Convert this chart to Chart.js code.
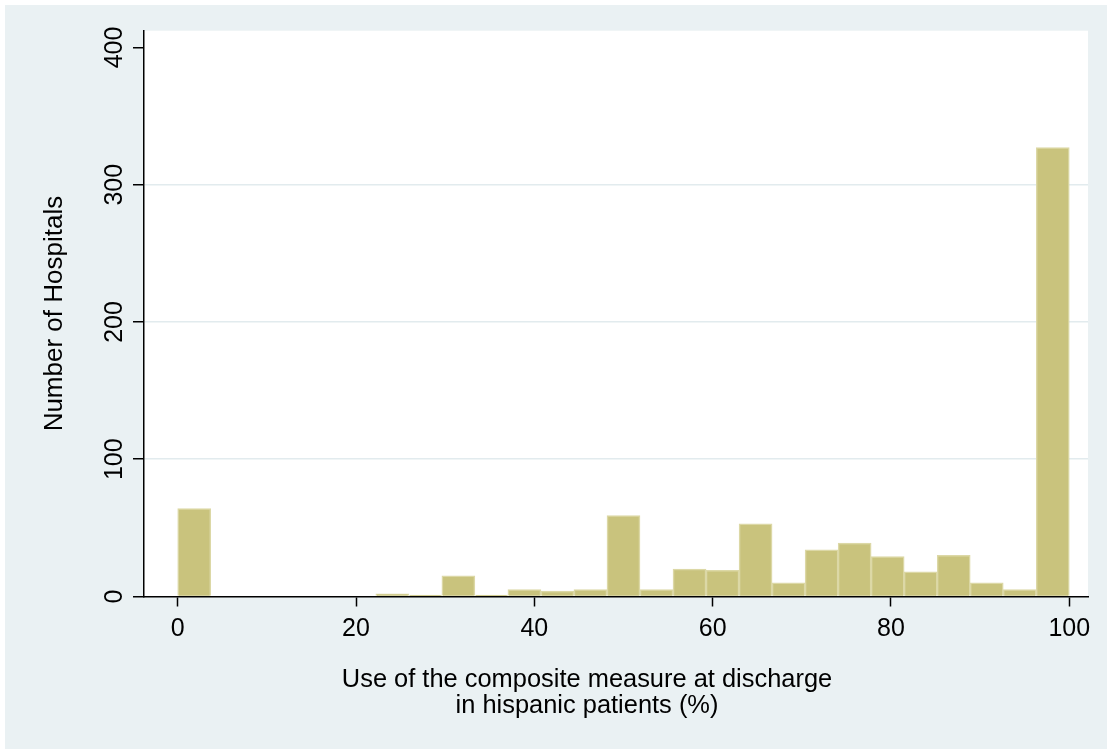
<!DOCTYPE html>
<html>
<head>
<meta charset="utf-8">
<title>Number of Hospitals by use of the composite measure</title>
<script src="https://cdn.jsdelivr.net/npm/chart.js@4.4.1/dist/chart.umd.min.js"></script>
<style>
  html, body { margin: 0; padding: 0; background: #ffffff; }
  #wrap { width: 1107px; height: 749px; }
</style>
</head>
<body>
<div id="wrap"><canvas id="hist" width="1107" height="749"></canvas></div>
<script>
// Histogram bins: 27 equal-width bins covering 0-100 %
const binStart = 0;
const binWidth = 100 / 27;
const hospitalCounts = [64, 0, 0, 0, 0, 0, 2, 1, 15, 1, 5, 4, 5, 59, 5, 20, 19, 53, 10, 34, 39, 29, 18, 30, 10, 5, 327];

// Axis ticks and labels
const xTickValues = [0, 20, 40, 60, 80, 100];
const xTickLabels = ['0', '20', '40', '60', '80', '100'];
const yTickValues = [0, 100, 200, 300, 400];
const yTickLabels = ['0', '100', '200', '300', '400'];

const xTitle = ['Use of the composite measure at discharge', 'in hispanic patients (%)'];
const yTitle = 'Number of Hospitals';

const FONT = '"Liberation Sans", Arial, Helvetica, sans-serif';
const PAGE_BG = '#eaf1f3';
const GRID = '#e2ebee';
const BAR_FILL = '#c9c37d';
const BAR_EDGE = '#dcd8a6';

const points = hospitalCounts.map((c, i) => ({ x: binStart + (i + 0.5) * binWidth, y: c }));

// Light outer region with a white plot area
const backgroundPlugin = {
  id: 'regions',
  beforeDraw(chart) {
    const { ctx, chartArea: a, width, height } = chart;
    ctx.save();
    ctx.fillStyle = '#ffffff';
    ctx.fillRect(0, 0, width, height);
    ctx.fillStyle = PAGE_BG;
    ctx.fillRect(5, 5, width - 5, height - 5);
    ctx.fillStyle = '#ffffff';
    ctx.fillRect(a.left, a.top, a.right - a.left, a.bottom - a.top);
    ctx.restore();
  }
};

// Vertical-axis tick labels (rotated, bottom-to-top) and the two-line x-axis title
const textPlugin = {
  id: 'axisTexts',
  afterDraw(chart) {
    const { ctx, chartArea: a } = chart;
    const y = chart.scales.y;
    ctx.save();
    ctx.fillStyle = '#000000';
    ctx.font = '25px ' + FONT;
    ctx.textAlign = 'center';
    ctx.textBaseline = 'alphabetic';
    yTickValues.forEach((v, i) => {
      const py = y.getPixelForValue(v);
      ctx.save();
      ctx.translate(a.left - 22.3, py);
      ctx.rotate(-Math.PI / 2);
      ctx.fillText(yTickLabels[i], 0, 0);
      ctx.restore();
    });

    // x-axis title, slightly widened
    const cx = 587;
    const baselines = [a.bottom + 90.2, a.bottom + 116.8];
    ctx.font = '25px ' + FONT;
    xTitle.forEach((line, i) => {
      ctx.save();
      ctx.translate(cx, baselines[i]);
      ctx.scale(1.017, 1);
      ctx.fillText(line, 0, 0);
      ctx.restore();
    });
    ctx.restore();
  }
};

new Chart(document.getElementById('hist'), {
  type: 'bar',
  data: {
    datasets: [{
      data: points,
      backgroundColor: BAR_FILL,
      borderColor: BAR_EDGE,
      borderWidth: 1.5,
      borderSkipped: 'start',
      barPercentage: 1,
      categoryPercentage: 1
    }]
  },
  options: {
    responsive: false,
    animation: false,
    devicePixelRatio: 1,
    layout: { padding: { left: 0, right: 19, top: 30.7, bottom: 0 } },
    plugins: {
      legend: { display: false },
      tooltip: { enabled: false }
    },
    scales: {
      x: {
        type: 'linear',
        min: -3.78,
        max: 102.1,
        offset: false,
        afterBuildTicks: s => { s.ticks = xTickValues.map(v => ({ value: v })); },
        afterFit: s => { s.height = 749 - 596.5; },
        ticks: {
          color: '#000000',
          padding: 7.5,
          maxRotation: 0,
          autoSkip: false,
          font: { family: FONT, size: 25 },
          callback: (v) => xTickLabels[xTickValues.indexOf(v)]
        },
        grid: {
          offset: false,
          drawOnChartArea: false,
          drawTicks: true,
          tickLength: 10,
          tickColor: '#000000',
          tickWidth: 1.5
        },
        border: { display: true, color: '#000000', width: 1.5 },
        title: { display: false }
      },
      y: {
        type: 'linear',
        min: 0,
        max: 412.2,
        afterBuildTicks: s => { s.ticks = yTickValues.map(v => ({ value: v })); },
        afterFit: s => { s.width = 144; },
        ticks: { display: false },
        grid: {
          drawOnChartArea: true,
          drawTicks: true,
          tickLength: 11,
          color: ctx => (ctx.tick && (ctx.tick.value === 0 || ctx.tick.value === 400)) ? 'rgba(0,0,0,0)' : GRID,
          lineWidth: 1.5,
          tickColor: '#000000',
          tickWidth: 1.5
        },
        border: { display: true, color: '#000000', width: 1.5 },
        title: {
          display: true,
          text: yTitle,
          color: '#000000',
          font: { family: FONT, size: 26, lineHeight: 1.2 },
          padding: { top: 39.6, bottom: 0 }
        }
      }
    }
  },
  plugins: [backgroundPlugin, textPlugin]
});
</script>
</body>
</html>
